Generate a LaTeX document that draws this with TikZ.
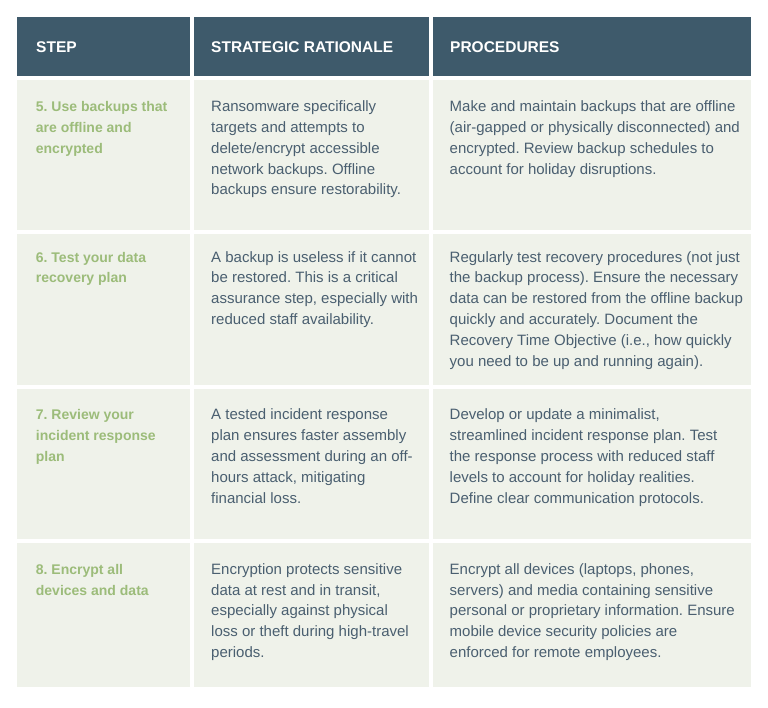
\documentclass[tikz,border=0pt]{standalone}
\usepackage{fontspec}
\setmainfont{Liberation Sans}
\frenchspacing
\definecolor{hdrbg}{HTML}{3E5A6B}
\definecolor{cellbg}{HTML}{EFF2EA}
\definecolor{bodytxt}{HTML}{4A5F70}
\definecolor{steptxt}{HTML}{9CBC7A}
\tikzset{
  hdrcell/.style={fill=hdrbg},
  bodycell/.style={fill=cellbg},
  hdrtext/.style={anchor=base west, inner sep=0pt, text=white, font=\fontsize{15.5}{18}\selectfont\bfseries},
  steptext/.style={anchor=base west, inner sep=0pt, text=steptxt, font=\fontsize{14}{20.8}\selectfont\bfseries},
  bodytext/.style={anchor=base west, inner sep=0pt, text=bodytxt, font=\fontsize{15}{20.8}\selectfont},
}
\newcommand{\celltext}[1]{\parbox[t]{320pt}{\raggedright\frenchspacing #1}}
\begin{document}
\begin{tikzpicture}[x=1pt,y=-1pt]
\useasboundingbox[fill=white] (0,0) rectangle (768,707);
% header cells
\fill[hdrcell] (17,17) rectangle (190,76);
\fill[hdrcell] (194,17) rectangle (429,76);
\fill[hdrcell] (433,17) rectangle (751,76);
% body cells
\foreach \ya/\yb in {80/230, 234/384.5, 388.5/538.5, 542.5/687}{
  \fill[bodycell] (17,\ya) rectangle (190,\yb);
  \fill[bodycell] (194,\ya) rectangle (429,\yb);
  \fill[bodycell] (433,\ya) rectangle (751,\yb);
}
% header text
\node[hdrtext] (h1) at (36,52.3) {STEP};
\node[hdrtext] (h2) at (211,52.3) {STRATEGIC RATIONALE};
\node[hdrtext] (h3) at (450,52.3) {PROCEDURES};
% row 1
\node[steptext] (s5) at (35.7,111.7) {\celltext{5. Use backups that\\are offline and\\encrypted}};
\node[bodytext] (r5) at (211,111.7) {\celltext{Ransomware specifically\\targets and attempts to\\delete/encrypt accessible\\network backups. Offline\\backups ensure restorability.}};
\node[bodytext] (p5) at (449.5,111.7) {\celltext{Make and maintain backups that are offline\\(air-gapped or physically disconnected) and\\encrypted. Review backup schedules to\\account for holiday disruptions.}};
% row 2
\node[steptext] (s6) at (35.7,262) {\celltext{6. Test your data\\recovery plan}};
\node[bodytext] (r6) at (211,262) {\celltext{A backup is useless if it cannot\\be restored. This is a critical\\assurance step, especially with\\reduced staff availability.}};
\node[bodytext] (p6) at (449.5,262) {\celltext{Regularly test recovery procedures (not just\\the backup process). Ensure the necessary\\data can be restored from the offline backup\\quickly and accurately. Document the\\Recovery Time Objective (i.e., how quickly\\you need to be up and running again).}};
% row 3
\node[steptext] (s7) at (35.7,419.8) {\celltext{7. Review your\\incident response\\plan}};
\node[bodytext] (r7) at (211,419.8) {\celltext{A tested incident response\\plan ensures faster assembly\\and assessment during an off-\\hours attack, mitigating\\financial loss.}};
\node[bodytext] (p7) at (449.5,419.8) {\celltext{Develop or update a minimalist,\\streamlined incident response plan. Test\\the response process with reduced staff\\levels to account for holiday realities.\\Define clear communication protocols.}};
% row 4
\node[steptext] (s8) at (35.7,574.3) {\celltext{8. Encrypt all\\devices and data}};
\node[bodytext] (r8) at (211,574.3) {\celltext{Encryption protects sensitive\\data at rest and in transit,\\especially against physical\\loss or theft during high-travel\\periods.}};
\node[bodytext] (p8) at (449.5,574.3) {\celltext{Encrypt all devices (laptops, phones,\\servers) and media containing sensitive\\personal or proprietary information. Ensure\\mobile device security policies are\\enforced for remote employees.}};
\end{tikzpicture}
\end{document}
